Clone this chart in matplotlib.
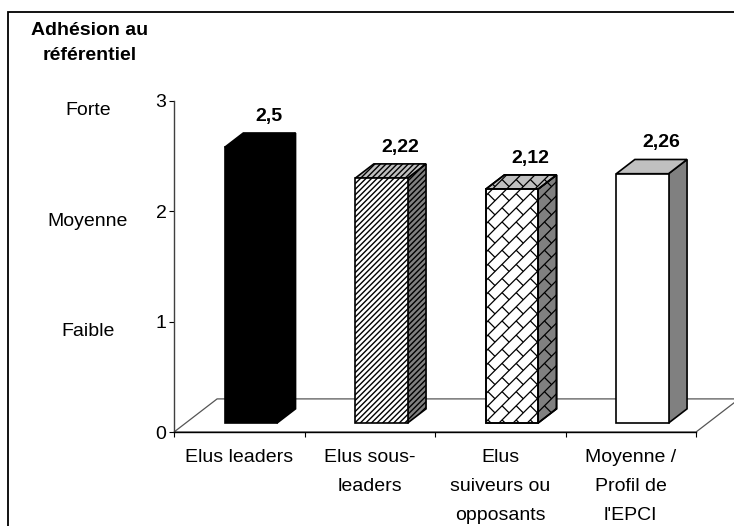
import matplotlib
matplotlib.use("Agg")
import matplotlib.pyplot as plt
from matplotlib.patches import Polygon, Rectangle
from matplotlib.collections import LineCollection
from matplotlib.transforms import IdentityTransform
import numpy as np

categories = ["Elus leaders", "Elus sous-\nleaders", "Elus\nsuiveurs ou\nopposants",
              "Moyenne /\nProfil de\nl'EPCI"]
values = [2.5, 2.22, 2.12, 2.26]
y_ticks = [0, 1, 2, 3]
levels = [1, 2, 3]
level_names = ["Faible", "Moyenne", "Forte"]
axis_title = "Adhésion au\nréférentiel"

# couleurs des faces (avant, dessus, côté) et motif de chaque barre
face_front = ["black", "white", "white", "white"]
face_top = ["black", "#c0c0c0", "#c0c0c0", "#c0c0c0"]
face_side = ["black", "#808080", "#808080", "#808080"]
hatches = [None, "//////", "brick", None]

plt.rcParams["font.family"] = ["Liberation Sans", "DejaVu Sans"]
plt.rcParams["hatch.linewidth"] = 1.0
plt.rcParams["hatch.color"] = "black"

fig = plt.figure(figsize=(7.34, 5.26), dpi=100)
ax = fig.add_axes([0.2371, 0.1787, 0.7112, 0.6293])
ax.set_xlim(0, len(values))
ax.set_ylim(0, 3)

# profondeur du sol (unités de données) et position des barres dans cette profondeur
depth = np.array([0.33, 0.30])
front, back = 0.27, 0.70
width = 0.40


def brick(ax, patch, s=10.0, z=3):
    # motif "brique diagonale" en pixels, découpé sur la face
    pts = ax.transData.transform(patch.get_xy())
    a = (pts[:, 0] + pts[:, 1]) / np.sqrt(2)
    b = (-pts[:, 0] + pts[:, 1]) / np.sqrt(2)
    u = np.array([1, 1]) / np.sqrt(2)
    v = np.array([-1, 1]) / np.sqrt(2)
    segs = []
    k0, k1 = int(np.floor(b.min() / s)) - 1, int(np.ceil(b.max() / s)) + 1
    j0, j1 = int(np.floor(a.min() / (2 * s))) - 1, int(np.ceil(a.max() / (2 * s))) + 1
    for k in range(k0, k1):
        segs.append([a.min() * u + k * s * v, a.max() * u + k * s * v])
        for j in range(j0, j1):
            aa = (2 * j + (k % 2)) * s
            segs.append([aa * u + k * s * v, aa * u + (k + 1) * s * v])
    lc = LineCollection(segs, colors="black", linewidths=0.9,
                        transform=IdentityTransform(), zorder=z)
    ax.add_collection(lc)
    lc.set_clip_path(patch)


# sol
n = len(values)
floor = Polygon([(0, 0), (n, 0), (n + depth[0], depth[1]), (depth[0], depth[1])],
                closed=True, facecolor="white", edgecolor="#555555", lw=0.9,
                clip_on=False, zorder=1)
ax.add_patch(floor)

bx, by = (back - front) * depth
for i, v in enumerate(values):
    x0 = i + 0.5 - width / 2 + front * depth[0]
    y0 = front * depth[1]
    faces = [
        ([(x0 + width, y0), (x0 + width + bx, y0 + by), (x0 + width + bx, y0 + v + by),
          (x0 + width, y0 + v)], face_side[i]),
        ([(x0, y0 + v), (x0 + width, y0 + v), (x0 + width + bx, y0 + v + by),
          (x0 + bx, y0 + v + by)], face_top[i]),
        ([(x0, y0), (x0 + width, y0), (x0 + width, y0 + v), (x0, y0 + v)], face_front[i]),
    ]
    for verts, col in faces:
        h = hatches[i] if hatches[i] not in (None, "brick") else None
        p = Polygon(verts, closed=True, facecolor=col, edgecolor="black", lw=1.2,
                    hatch=h, zorder=3)
        ax.add_patch(p)
        if hatches[i] == "brick":
            brick(ax, p)
            # contour redessiné au-dessus du motif
            ax.add_patch(Polygon(verts, closed=True, fill=False, edgecolor="black",
                                 lw=1.2, zorder=3))
    label = f"{v:g}".replace(".", ",")
    ax.annotate(label, xy=(x0 + width / 2 + bx, y0 + v + by), xytext=(0, 6),
                textcoords="offset points", ha="center", va="bottom",
                fontsize=14, fontweight="bold")

# axes
ax.spines["top"].set_visible(False)
ax.spines["right"].set_visible(False)
ax.spines["left"].set_color("#404040")
ax.spines["left"].set_linewidth(1.0)
ax.spines["bottom"].set_color("black")
ax.spines["bottom"].set_linewidth(1.0)
ax.spines["left"].set_zorder(2)
ax.spines["bottom"].set_zorder(2)

ax.set_yticks(y_ticks)
ax.tick_params(axis="y", direction="out", length=3.5, width=0.8, labelsize=14, pad=2)
ax.set_xticks(range(n + 1))
ax.set_xticklabels([])
ax.tick_params(axis="x", which="major", direction="out", length=3.5, width=0.8)
ax.set_xticks(np.arange(n) + 0.5, minor=True)
ax.set_xticklabels(categories, minor=True, linespacing=1.9)
ax.tick_params(axis="x", which="minor", length=0, labelsize=14, pad=12.5)

# libellés qualitatifs de l'échelle
for lv, name in zip(levels, level_names):
    ax.annotate(name, xy=(-0.165, lv), xycoords=ax.get_yaxis_transform(),
                xytext=(0, -7), textcoords="offset points",
                ha="center", va="center", fontsize=14)

fig.text(90 / 734, 1 - 43 / 526, axis_title, ha="center", va="center",
         fontsize=14, fontweight="bold", linespacing=1.65)

# cadre
fig.add_artist(Rectangle((8 / 734, -0.05), 1.0, (526 - 12) / 526 + 0.05,
                         transform=fig.transFigure, fill=False,
                         edgecolor="black", lw=1.3))

fig.savefig("out.png", dpi=100)
